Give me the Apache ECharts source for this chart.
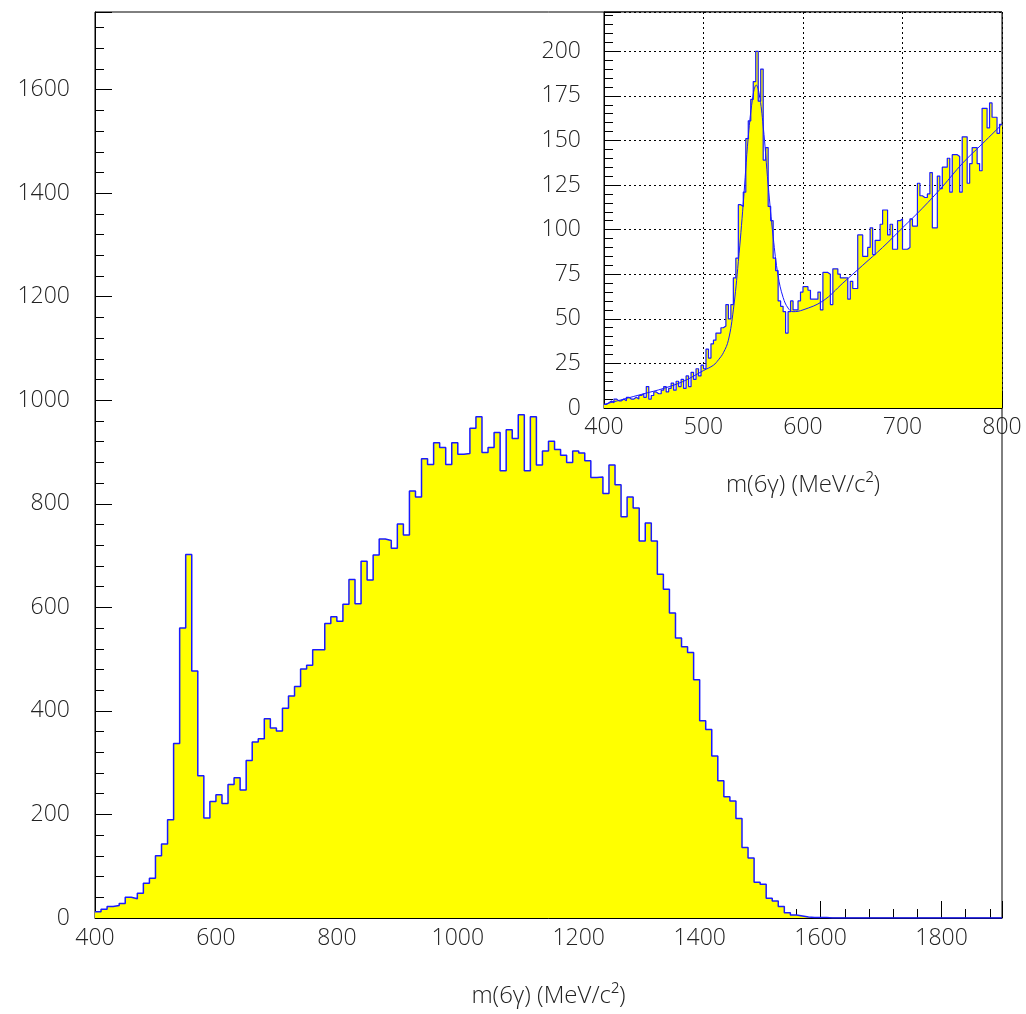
<!DOCTYPE html>
<html>
<head>
<meta charset="utf-8">
<script src="https://cdn.jsdelivr.net/npm/echarts@6/dist/echarts.min.js"></script>
<style>
  html, body { margin: 0; padding: 0; background: #fff; }
  #chart { width: 1026px; height: 1014px; }
</style>
</head>
<body>
<div id="chart"></div>
<script>
// Full spectrum: 10 MeV bins from 400 to 1900 MeV
const mainStart = 400;
const mainBinWidth = 10;
const mainCounts = [
  12, 17, 22, 24, 28, 40, 37, 48, 67, 77,
  120, 143, 190, 337, 560, 702, 477, 275, 193, 225,
  238, 221, 258, 271, 247, 304, 340, 346, 385, 367,
  361, 405, 429, 447, 481, 488, 518, 518, 569, 582,
  573, 606, 654, 607, 689, 653, 701, 732, 729, 714,
  761, 740, 825, 813, 887, 876, 918, 909, 876, 918,
  896, 897, 946, 968, 899, 909, 938, 864, 943, 926,
  972, 864, 968, 875, 902, 921, 905, 894, 880, 902,
  898, 883, 851, 852, 820, 875, 837, 775, 813, 792,
  728, 763, 728, 664, 635, 589, 541, 524, 513, 460,
  381, 364, 313, 265, 234, 226, 192, 136, 116, 69,
  65, 38, 33, 22, 10, 6, 4, 2, 1, 1,
  1, 0, 0, 0, 0, 0, 0, 0, 0, 0,
  0, 0, 0, 0, 0, 0, 0, 0, 0, 0,
  0, 0, 0, 0, 0, 0, 0, 0, 0, 0
];

// Eta region: 2.5 MeV bins from 400 to 800 MeV
const zoomStart = 400;
const zoomBinWidth = 2.5;
const zoomCounts = [
  2, 3, 4, 3, 5, 4, 4, 5, 4, 6,
  5, 5, 6, 5, 7, 8, 6, 12, 5, 7,
  9, 8, 8, 10, 12, 9, 11, 14, 10, 15,
  12, 16, 11, 18, 12, 20, 16, 22, 18, 24,
  22, 33, 28, 36, 38, 42, 42, 45, 46, 58,
  50, 58, 73, 84, 114, 113, 121, 151, 161, 173,
  183, 200, 172, 190, 139, 146, 113, 105, 84, 77,
  60, 57, 54, 42, 54, 60, 55, 55, 60, 65,
  68, 68, 66, 61, 61, 61, 65, 55, 76, 76,
  75, 58, 78, 78, 75, 73, 73, 73, 61, 71,
  67, 67, 97, 97, 85, 85, 90, 101, 86, 94,
  94, 103, 111, 111, 97, 103, 89, 89, 105, 106,
  89, 89, 90, 106, 102, 102, 126, 119, 118, 118,
  120, 132, 101, 101, 130, 123, 135, 135, 140, 121,
  142, 142, 141, 121, 152, 152, 126, 137, 146, 146,
  137, 133, 168, 168, 157, 171, 163, 163, 154, 159
];

// Fitted signal + background curve
const fitMass = [400, 420, 440, 460, 480, 500, 510, 515, 520, 525, 530, 535, 540, 545, 550, 553, 556, 560, 565, 570, 575, 580, 585, 590, 600, 620, 640, 660, 680, 700, 720, 740, 760, 780, 800];
const fitValue = [2, 5, 8, 11, 15, 21, 24, 27, 31, 38, 55, 82, 115, 152, 176, 181, 176, 158, 125, 96, 74, 62, 56, 54, 55, 60, 70, 80, 90, 101, 112, 124, 137, 148, 159];

const axisTitle = 'm(6\u03b3) (MeV/c\u00b2)';

function stepPoints(start, width, counts) {
  const pts = counts.map((c, i) => [start + i * width, c]);
  pts.push([start + counts.length * width, counts[counts.length - 1]]);
  return pts;
}

const FONT = 'Open Sans';
const TXT = '#222';
const labelStyle = { fontFamily: FONT, fontSize: 23, fontWeight: 300, color: TXT };
const titleStyle = { fontFamily: FONT, fontSize: 24, fontWeight: 300, color: TXT };
const plain = v => String(v);

function axisCommon(extra) {
  return Object.assign({
    type: 'value',
    axisLine: { show: true, onZero: false, lineStyle: { color: '#000', width: 1 } },
    axisTick: { show: true, inside: true, length: 17, lineStyle: { color: '#000', width: 1 } },
    minorTick: { show: true, splitNumber: 5, length: 9, lineStyle: { color: '#000', width: 1 } },
    splitLine: { show: false },
  }, extra);
}

const chart = echarts.init(document.getElementById('chart'), null, { renderer: 'canvas' });

chart.setOption({
  animation: false,
  backgroundColor: '#fff',
  grid: [
    { left: 95, top: 12, width: 907, height: 906, show: true, borderColor: '#000', borderWidth: 1, backgroundColor: 'transparent' },
    { left: 604, top: 12, width: 398, height: 396, show: true, borderColor: '#000', borderWidth: 1, backgroundColor: '#fff' }
  ],
  xAxis: [
    axisCommon({
      gridIndex: 0, min: 400, max: 1900, interval: 200,
      axisLabel: Object.assign({ margin: 9, showMaxLabel: false, formatter: plain }, labelStyle),
      name: axisTitle, nameLocation: 'middle', nameGap: 66,
      nameTextStyle: titleStyle
    }),
    axisCommon({
      gridIndex: 1, min: 400, max: 800, interval: 100,
      axisLabel: Object.assign({ margin: 8, formatter: plain }, labelStyle),
      splitLine: { show: true, lineStyle: { color: '#000', width: 1, type: [2, 3] } },
      name: axisTitle, nameLocation: 'middle', nameGap: 65,
      nameTextStyle: titleStyle
    })
  ],
  yAxis: [
    axisCommon({
      gridIndex: 0, min: 0, max: 1750, interval: 200,
      axisLabel: Object.assign({ margin: 25, showMaxLabel: false, formatter: plain }, labelStyle)
    }),
    axisCommon({
      gridIndex: 1, min: 0, max: 222, interval: 25,
      axisLabel: Object.assign({ margin: 23, showMaxLabel: false, formatter: plain }, labelStyle),
      splitLine: { show: true, lineStyle: { color: '#000', width: 1, type: [2, 3] } }
    })
  ],
  series: [
    {
      type: 'line', xAxisIndex: 0, yAxisIndex: 0, step: 'end', symbol: 'none',
      data: stepPoints(mainStart, mainBinWidth, mainCounts),
      lineStyle: { color: '#1a1aff', width: 1.5 },
      areaStyle: { color: '#ffff00', opacity: 1 },
      z: 2
    },
    {
      type: 'line', xAxisIndex: 1, yAxisIndex: 1, step: 'end', symbol: 'none',
      data: stepPoints(zoomStart, zoomBinWidth, zoomCounts),
      lineStyle: { color: '#1a1aff', width: 1.2 },
      areaStyle: { color: '#ffff00', opacity: 1 },
      z: 2
    },
    {
      type: 'line', xAxisIndex: 1, yAxisIndex: 1, smooth: 0.4, symbol: 'none',
      data: fitMass.map((m, i) => [m, fitValue[i]]),
      lineStyle: { color: '#1a1aff', width: 1 },
      z: 3
    }
  ]
});
</script>
</body>
</html>
